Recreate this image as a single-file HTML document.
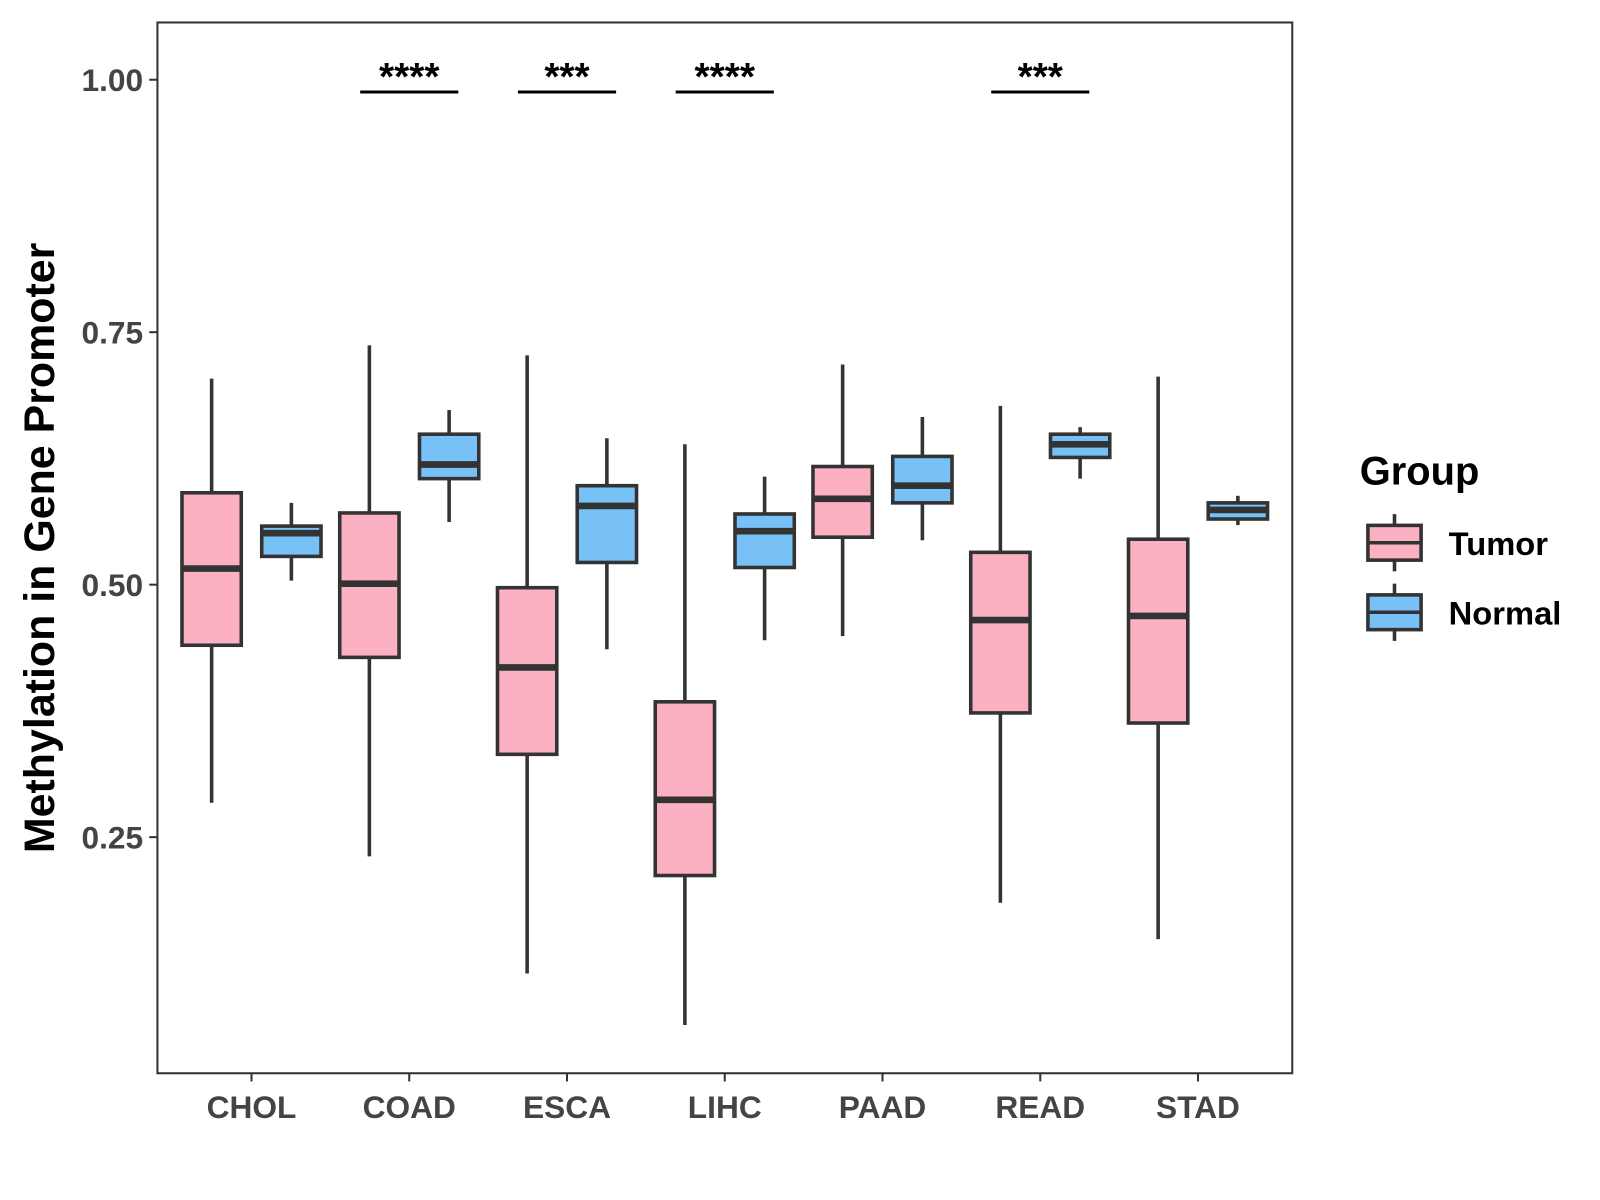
<!DOCTYPE html>
<html><head><meta charset="utf-8"><style>
body{margin:0;background:#fff;}
svg{display:block;font-family:"Liberation Sans",Arial,sans-serif;}
</style></head><body>
<svg id="chart" width="1600" height="1200" viewBox="0 0 1565 1174" preserveAspectRatio="none">
<rect x="0" y="0" width="1565" height="1174" fill="#fff"/>
<g id="marks"></g>
<rect x="154" y="22" width="1110" height="1028" fill="none" stroke="#333" stroke-width="2"/>
<text transform="translate(53,536) rotate(-90)" text-anchor="middle" font-size="42" font-weight="bold" fill="#000">Methylation in Gene Promoter</text>
<g>
<text x="1330" y="474" font-size="39" font-weight="bold">Group</text>
<g>
<line x1="1364" y1="503" x2="1364" y2="559" stroke="#333" stroke-width="3.5"/>
<rect x="1338" y="514" width="52" height="34" fill="#FBB1C2" stroke="#333" stroke-width="3.5"/>
<line x1="1338" y1="531" x2="1390" y2="531" stroke="#333" stroke-width="3.5"/>
<text x="1417" y="543" font-size="32" font-weight="bold">Tumor</text></g>
<g>
<line x1="1364" y1="571" x2="1364" y2="627" stroke="#333" stroke-width="3.5"/>
<rect x="1338" y="582" width="52" height="34" fill="#78C1F7" stroke="#333" stroke-width="3.5"/>
<line x1="1338" y1="599" x2="1390" y2="599" stroke="#333" stroke-width="3.5"/>
<text x="1417" y="611" font-size="32" font-weight="bold">Normal</text></g>
</g>
</svg>
<script>
const categories=["CHOL","COAD","ESCA","LIHC","PAAD","READ","STAD"];
// [low, q1, median, q3, high]
const tumorStats=[[.284,.440,.516,.591,.704],[.231,.428,.501,.571,.737],[.115,.332,.418,.497,.727],[.064,.212,.287,.384,.639],[.449,.547,.585,.617,.718],[.185,.373,.465,.532,.677],[.149,.363,.469,.545,.706]];
const normalStats=[[.504,.528,.551,.558,.581],[.562,.605,.619,.649,.673],[.436,.522,.578,.598,.645],[.445,.517,.553,.570,.607],[.544,.581,.598,.627,.666],[.605,.626,.639,.649,.656],[.559,.565,.574,.581,.588]];
const sigLabels=["","****","***","****","","***",""];
const yTicks=[0.25,0.5,0.75,1.0];
const yTickLabels=["0.25","0.50","0.75","1.00"];
const NS="http://www.w3.org/2000/svg";
const g=document.getElementById("marks");
const Y=v=>1066-988*v;
const X=i=>246+154.3*i;
function mk(t,a,p){const e=document.createElementNS(NS,t);for(const k in a)e.setAttribute(k,a[k]);(p||g).appendChild(e);return e;}
yTicks.forEach((t,i)=>{
 const l=mk("line",{x1:146,x2:154,y1:Y(t),y2:Y(t),stroke:"#333","stroke-width":2});
 
 
 const tx=mk("text",{x:140,y:Y(t)+11,"text-anchor":"end","font-size":31,"font-weight":"bold",fill:"#444"});
 tx.textContent=yTickLabels[i];
 
 
});
categories.forEach((c,i)=>{
 const x=X(i);
 const l=mk("line",{x1:x,x2:x,y1:1050,y2:1058,stroke:"#333","stroke-width":2});
 
 
 const tx=mk("text",{x:x,y:1094,"text-anchor":"middle","font-size":31,"font-weight":"bold",fill:"#444"});
 tx.textContent=c;
 
 
 [[tumorStats[i],-39,"#FBB1C2","tumor"],[normalStats[i],39,"#78C1F7","normal"]].forEach(([s,off,col,nm])=>{
  const cx=x+off;
  const bg=mk("g",{});
  
  
  mk("line",{x1:cx,x2:cx,y1:Y(s[4]),y2:Y(s[0]),stroke:"#333","stroke-width":3.5},bg);
  mk("rect",{x:cx-29,y:Y(s[3]),width:58,height:Y(s[1])-Y(s[3]),fill:col,stroke:"#333","stroke-width":3.5},bg);
  mk("line",{x1:cx-29,x2:cx+29,y1:Y(s[2]),y2:Y(s[2]),stroke:"#333","stroke-width":6.5},bg);
 });
 if(sigLabels[i]){
  const l2=mk("line",{x1:x-48,x2:x+48,y1:90,y2:90,stroke:"#000","stroke-width":3});
  
  
  const st=mk("text",{x:x,y:88,"text-anchor":"middle","font-size":38,"font-weight":"bold",fill:"#000"});
  st.textContent=sigLabels[i];
  
  
 }
});
</script>
</body></html>
